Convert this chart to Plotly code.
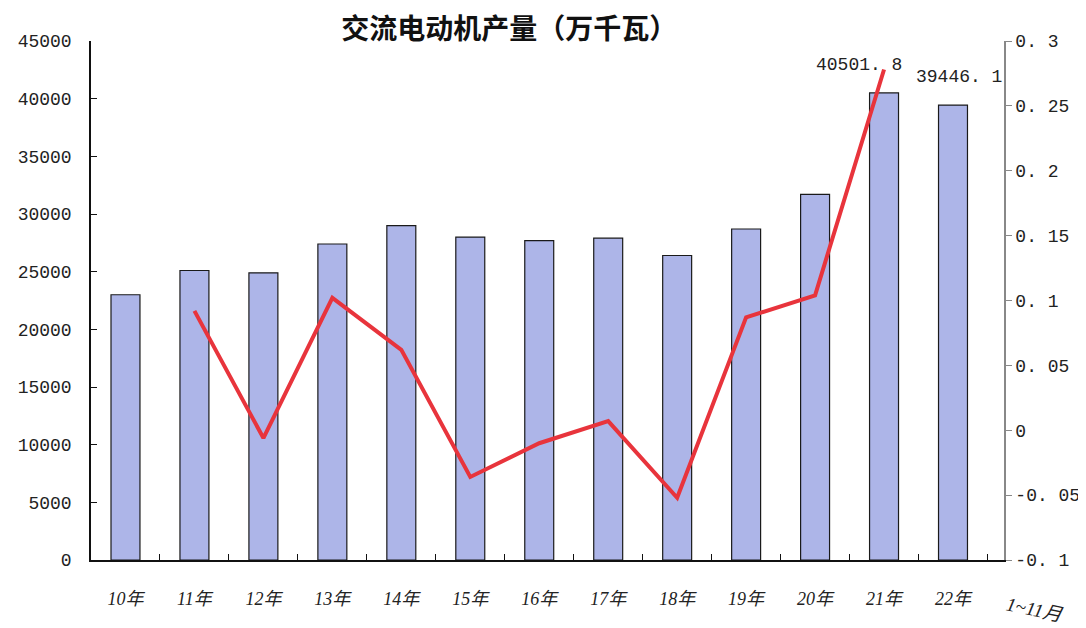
import plotly.graph_objects as go

years = ["10年", "11年", "12年", "13年", "14年", "15年", "16年", "17年", "18年", "19年", "20年", "21年", "22年"]
output = [23000, 25100, 24900, 27400, 29000, 28000, 27700, 27900, 26400, 28700, 31700, 40501.8, 39446.1]
growth = [None, 0.092, -0.006, 0.102, 0.062, -0.036, -0.010, 0.007, -0.052, 0.087, 0.104, 0.278, None]
left_ticks = [0, 5000, 10000, 15000, 20000, 25000, 30000, 35000, 40000, 45000]
left_ticktext = [str(v) for v in left_ticks]
right_ticks = [-0.1, -0.05, 0, 0.05, 0.1, 0.15, 0.2, 0.25, 0.3]
right_ticktext = ["-0. 1", "-0. 05", "0", "0. 05", "0. 1", "0. 15", "0. 2", "0. 25", "0. 3"]
labelled = {11: "40501. 8", 12: "39446. 1"}

tickfont = dict(family="Liberation Mono", size=18, color="#222")

fig = go.Figure()
fig.add_trace(go.Bar(
    x=years, y=output,
    marker=dict(color="#ADB5E8", line=dict(color="#1a1a1a", width=1.2)),
    showlegend=False,
))
fig.add_trace(go.Scatter(
    x=years, y=growth, yaxis="y2", mode="lines",
    line=dict(color="#E8343C", width=4),
    showlegend=False, connectgaps=False,
))

for i, txt in labelled.items():
    fig.add_annotation(x=years[i], y=output[i], text=txt, showarrow=False,
                       yanchor="bottom", yshift=16, xshift=-25 if i == 11 else 6,
                       font=tickfont)

fig.add_annotation(xref="paper", yref="paper", x=0.998, y=-0.06, text="<i>1~11月</i>",
                   showarrow=False, xanchor="left", yanchor="top", textangle=12,
                   font=dict(family="Liberation Serif, Noto Sans CJK SC", size=19, color="#222"))

fig.update_layout(
    width=1078, height=620,
    margin=dict(l=83, r=82, t=33, b=68, autoexpand=False),
    paper_bgcolor="white", plot_bgcolor="white",
    bargap=0.58,
    title=dict(text="<b>交流电动机产量（万千瓦）</b>", x=0.465, xanchor="center",
               y=0.966, yanchor="middle", yref="container",
               font=dict(family="Noto Sans CJK SC", size=28, color="#111")),
    xaxis=dict(
        showline=True, linecolor="#111", linewidth=1.5,
        ticks="inside", tickson="boundaries", ticklen=6, tickcolor="#111",
        tickvals=years, ticktext=["<i>" + y + "</i>" for y in years],
        tickfont=dict(family="Liberation Serif, Noto Sans CJK SC", size=18, color="#222"),
        ticklabelstandoff=22, automargin=False,
        showgrid=False,
    ),
    yaxis=dict(
        range=[0, 45000], tickvals=left_ticks, ticktext=left_ticktext,
        showline=True, linecolor="#111", linewidth=1.5,
        ticks="inside", ticklen=6, tickcolor="#111", ticklabelstandoff=14,
        tickfont=tickfont, showgrid=False, zeroline=False, automargin=False,
    ),
    yaxis2=dict(
        range=[-0.1, 0.3], overlaying="y", side="right",
        tickvals=right_ticks, ticktext=right_ticktext,
        showline=True, linecolor="#888", linewidth=1.5,
        ticks="outside", ticklen=6, tickcolor="#888",
        tickfont=tickfont, showgrid=False, zeroline=False, automargin=False,
    ),
)

fig.write_html("out.html")
